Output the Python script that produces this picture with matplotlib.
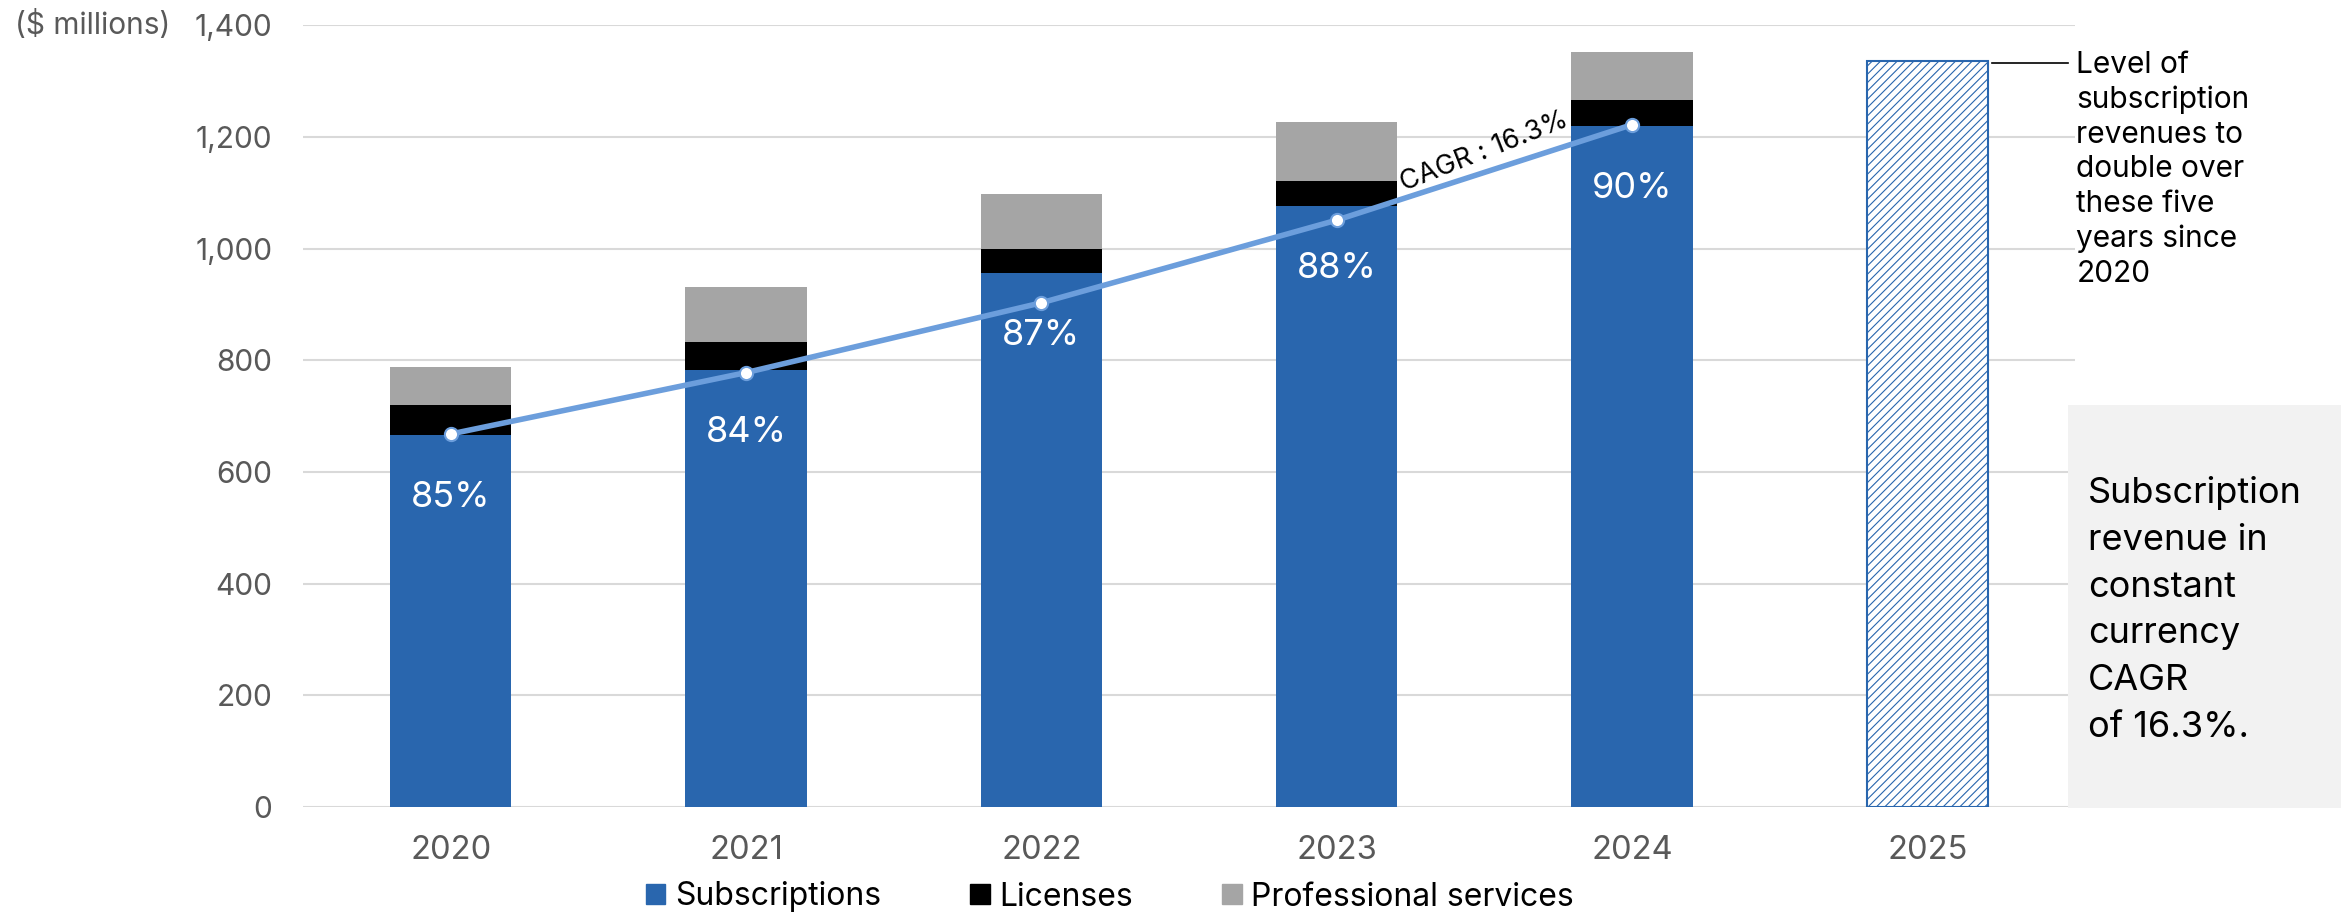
import matplotlib
matplotlib.use("Agg")
import matplotlib.pyplot as plt
from matplotlib.patches import Patch, Rectangle

plt.rcParams['font.family'] = ['Inter', 'DejaVu Sans']
plt.rcParams['hatch.linewidth'] = 0.8

years = ['2020', '2021', '2022', '2023', '2024', '2025']
subscriptions = [666, 783, 956, 1076, 1220]
licenses = [54, 50, 43, 46, 46]
professional = [68, 99, 98, 105, 87]
subs_constant_ccy = [668, 778, 903, 1051, 1222]
sub_share = ['85%', '84%', '87%', '88%', '90%']
target_2025 = 1336
cagr_text = 'CAGR : 16.3%'

BLUE = '#2966AE'
LINE_BLUE = '#6C9EDC'
GREY = '#A5A5A5'
TICK = '#595959'

fig = plt.figure(figsize=(23.41, 9.15), dpi=100)
ax = fig.add_axes([303 / 2341, 1 - 807 / 915, (2075 - 303) / 2341, (807 - 25.3) / 915])

x = list(range(len(subscriptions)))
w = 0.41
lic_bottom = subscriptions
pro_bottom = [s + l for s, l in zip(subscriptions, licenses)]

ax.bar(x, subscriptions, w, color=BLUE, zorder=2, label='Subscriptions')
ax.bar(x, licenses, w, bottom=lic_bottom, color='black', zorder=2, label='Licenses')
ax.bar(x, professional, w, bottom=pro_bottom, color=GREY, zorder=2, label='Professional services')

# 2025 target bar: twice the 2020 subscription level
ax.bar([5], [target_2025], w, facecolor='white', edgecolor=BLUE, hatch='////', linewidth=1.5, zorder=2)

ax.plot(x, subs_constant_ccy, color=LINE_BLUE, lw=4, marker='o', ms=9.5,
        mfc='white', mec=LINE_BLUE, mew=1.5, zorder=4)

for xi, s, lab in zip(x, subscriptions, sub_share):
    ax.annotate(lab, (xi, s), xytext=(0, -45), textcoords='offset points',
                ha='center', va='center', color='white', fontsize=26, zorder=5)

mid_x = (x[3] + x[4]) / 2
mid_y = (subs_constant_ccy[3] + subs_constant_ccy[4]) / 2
ax.annotate(cagr_text, (mid_x, mid_y), xytext=(0, 15), textcoords='offset points',
            ha='center', va='center', rotation=21.5, fontsize=19.5, color='black', zorder=5)

# leader line and note for the 2025 bar
ax.plot([5 + w / 2 + 0.015, 5.475], [target_2025 - 4, target_2025 - 4], color='black', lw=1.2, clip_on=False)
ax.text(5.505, target_2025 + 18, 'Level of\nsubscription\nrevenues to\ndouble over\nthese five\nyears since\n2020',
        ha='left', va='top', fontsize=21.5, linespacing=1.3, color='black')

ax.set_xlim(-0.5, 5.5)
ax.set_ylim(0, 1400)
ax.set_yticks(range(0, 1401, 200))
ax.set_yticklabels([f'{v:,}' for v in range(0, 1401, 200)])
ax.set_xticks(range(len(years)))
ax.set_xticklabels(years)
ax.tick_params(axis='y', length=0, pad=22, labelsize=21.5, labelcolor=TICK)
ax.tick_params(axis='x', length=0, pad=20, labelsize=23.5, labelcolor=TICK)
ax.grid(axis='y', color='#D9D9D9', lw=1.5, zorder=0)
ax.set_axisbelow(True)
for sp in ax.spines.values():
    sp.set_visible(False)

fig.text(15 / 2341, 1 - 25.3 / 915, '($ millions)', ha='left', va='center', fontsize=21.5, color=TICK)

# grey side note
fig.patches.append(Rectangle((2068 / 2341, 1 - 808 / 915), 1 - 2068 / 2341, (808 - 405) / 915,
                             transform=fig.transFigure, facecolor='#F2F2F2', edgecolor='none', zorder=0))
fig.text(2088 / 2341, 1 - 610 / 915, 'Subscription\nrevenue in\nconstant\ncurrency\nCAGR\nof 16.3%.',
         ha='left', va='center', fontsize=26, linespacing=1.53, color='black')

handles = [Patch(color=BLUE), Patch(color='black'), Patch(color=GREY)]
fig.legend(handles, ['Subscriptions', 'Licenses', 'Professional services'], loc='center',
           bbox_to_anchor=(1110 / 2341, 1 - 897 / 915), ncol=3, frameon=False, fontsize=23,
           handlelength=0.6, handleheight=0.6, handletextpad=0.3, columnspacing=2.8)

fig.savefig('out.png', dpi=100)
